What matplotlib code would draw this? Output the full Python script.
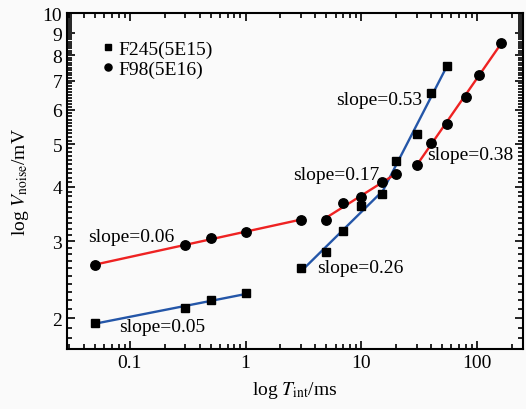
import matplotlib
matplotlib.use("Agg")
import matplotlib.pyplot as plt
import numpy as np
from matplotlib.ticker import FixedLocator, NullFormatter, LogLocator

plt.rcParams['font.family'] = ['Liberation Serif', 'DejaVu Serif']
plt.rcParams['mathtext.fontset'] = 'stix'

# F245(5E15) - squares
t_f245 = [0.05, 0.3, 0.5, 1, 3, 5, 7, 10, 15, 20, 30, 40, 55]
v_f245 = [1.95, 2.11, 2.20, 2.28, 2.60, 2.84, 3.16, 3.61, 3.86, 4.59, 5.28, 6.57, 7.57]

# F98(5E16) - circles
t_f98 = [0.05, 0.3, 0.5, 1, 3, 5, 7, 10, 15, 20, 30, 40, 55, 80, 105, 160]
v_f98 = [2.65, 2.94, 3.05, 3.15, 3.36, 3.36, 3.67, 3.79, 4.10, 4.27, 4.49, 5.05, 5.58, 6.41, 7.23, 8.56]

# fitted ranges (index slices) and slope labels
f245_segments = [(0, 4), (4, 9), (8, 13)]
f98_segments = [(0, 5), (5, 10), (10, 16)]
slope_labels = ['slope=0.05', 'slope=0.26', 'slope=0.53',
                'slope=0.06', 'slope=0.17', 'slope=0.38']
label_x = [0.080, 4.15, 6.05, 0.0435, 2.6, 37.3]
label_y = [1.91, 2.61, 6.34, 3.08, 4.27, 4.73]

red = '#ee2222'
blue = '#2456a8'


def fit_line(ax, t, v, seg, color):
    x = np.log10(t[seg[0]:seg[1]])
    y = np.log10(v[seg[0]:seg[1]])
    k, b = np.polyfit(x, y, 1)
    xs = np.array([x[0], x[-1]])
    ax.plot(10 ** xs, 10 ** (k * xs + b), color=color, lw=1.7, zorder=2)


fig = plt.figure(figsize=(5.26, 4.10), dpi=100, facecolor='#fafafa')
ax = fig.add_axes([0.1274, 0.1463, 0.867, 0.8195])
ax.set_facecolor('#fafafa')
ax.set_xscale('log')
ax.set_yscale('log')

for seg in f245_segments:
    fit_line(ax, t_f245, v_f245, seg, blue)
for seg in f98_segments:
    fit_line(ax, t_f98, v_f98, seg, red)

ax.plot(t_f245, v_f245, 's', color='black', ms=6, ls='none', zorder=3, label='F245(5E15)')
ax.plot(t_f98, v_f98, 'o', color='black', ms=6.8, ls='none', zorder=3, label='F98(5E16)')

for s, x, y in zip(slope_labels, label_x, label_y):
    ax.text(x, y, s, fontsize=14, ha='left', va='center', zorder=4)

ax.set_xlim(0.0286, 250)
ax.set_ylim(1.70, 10)

# ticks
ax.xaxis.set_major_locator(LogLocator(base=10, numticks=10))
ax.xaxis.set_minor_locator(LogLocator(base=10, subs=np.arange(2, 10), numticks=20))
ax.xaxis.set_minor_formatter(NullFormatter())
ax.set_xticks([0.1, 1, 10, 100])
ax.set_xticklabels(['0.1', '1', '10', '100'])

ax.yaxis.set_major_locator(FixedLocator([2, 3, 4, 5, 6, 7, 8, 9, 10]))
ax.yaxis.set_minor_locator(FixedLocator(np.round(np.arange(1.7, 10.0, 0.1), 1)))
ax.yaxis.set_minor_formatter(NullFormatter())
ax.set_yticklabels(['2', '3', '4', '5', '6', '7', '8', '9', '10'])

ax.tick_params(which='both', direction='in', top=True, right=True, labelsize=14, width=1.2)
ax.tick_params(which='major', length=6)
ax.tick_params(which='minor', length=3.5)
for sp in ax.spines.values():
    sp.set_linewidth(1.5)

ax.set_xlabel(r'log $T_{\mathrm{int}}$/ms', fontsize=14, labelpad=6)
ax.set_ylabel(r'log $V_{\mathrm{noise}}$/mV', fontsize=14, labelpad=8)

ax.legend(loc='upper left', bbox_to_anchor=(0.079, 0.92), frameon=False, fontsize=14,
          handlelength=0.5, handletextpad=0.3, labelspacing=0.15, borderaxespad=0,
          borderpad=0, markerscale=0.75)

fig.savefig('out.png', dpi=100, facecolor=fig.get_facecolor())
